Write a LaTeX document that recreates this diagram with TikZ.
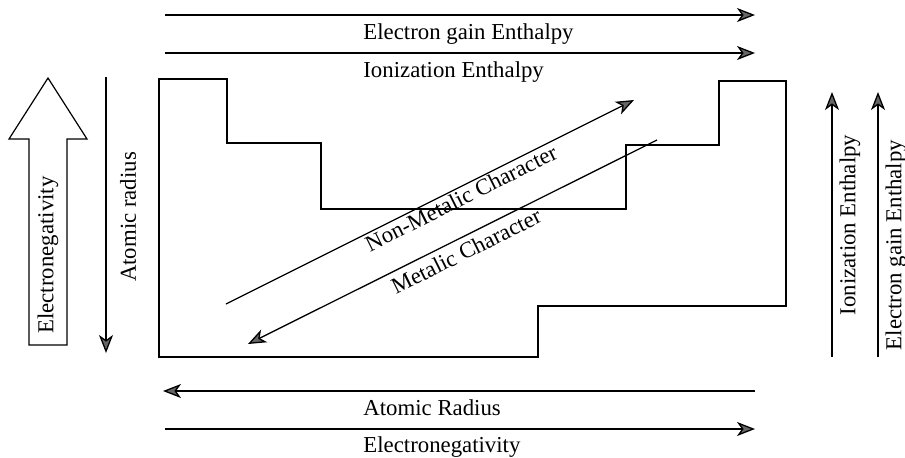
\documentclass[tikz,border=0pt]{standalone}
\usepackage{fontspec}
\setmainfont{Liberation Serif}
\usetikzlibrary{positioning}
\usetikzlibrary{arrows.meta}
\tikzset{
  tag/.style      = { font=\fontsize{11.4}{13}\selectfont, inner sep=0pt },
  vtag/.style     = { tag, rotate=90 },
  dtag/.style     = { tag, rotate=26.5 },
  tip/.style      = { -{Stealth[length=9pt,width=7pt,inset=2.5pt,fill=black!60]} },
  trend/.style    = { tip, line width=0.65pt },
  outline/.style  = { line width=0.9pt, line join=miter },
  hollow/.style   = { line width=0.6pt, line join=miter }
}

\begin{document}
\begin{tikzpicture}[x=0.5pt,y=-0.5pt]
  \useasboundingbox (0,0) rectangle (905,457);

  % end points of the trend arrows
  \coordinate (egL) at (165,15);   \coordinate (egR) at (755,15);
  \coordinate (ieL) at (165,53);   \coordinate (ieR) at (755,53);
  \coordinate (arL) at (163,391);  \coordinate (arR) at (755,391);
  \coordinate (enL) at (165,429);  \coordinate (enR) at (755,429);
  \coordinate (radT) at (106,77);  \coordinate (radB) at (106,353);
  \coordinate (ieB) at (832,357);  \coordinate (ieT) at (832,92);
  \coordinate (egB) at (878,357);  \coordinate (egT) at (878,92);
  \coordinate (nmS) at (226,304);  \coordinate (nmE) at (634,100);
  \coordinate (mS)  at (657,140);  \coordinate (mE)  at (248,344);

  % outline of the table
  \draw [outline] (159,79) -- (227,79) -- (227,143) -- (321,143) -- (321,209)
    -- (626,209) -- (626,145) -- (719,145) -- (719,81) -- (786,81)
    -- (786,306) -- (538,306) -- (538,357) -- (159,357) -- cycle;

  % hollow arrow
  \draw [hollow] (29,345) -- (29,139) -- (9,139) -- (48,78) -- (87,139)
    -- (67,139) -- (67,345) -- cycle;

  \node (enV)  [vtag] at (48,255)  {Electronegativity};
  \node (radV) [vtag] at (128,217) {Atomic radius};
  \node (ieV)  [vtag] at (850,225) {Ionization Enthalpy};
  \node (egV)  [vtag] at (896,245) {Electron gain Enthalpy};

  \node (egH)  [tag,anchor=west] at (363,34)  {Electron gain Enthalpy};
  \node (ieH)  [tag,anchor=west] at (363,72)  {Ionization Enthalpy};
  \node (arH)  [tag,anchor=west] at (363,408) {Atomic Radius};
  \node (enH)  [tag,anchor=west] at (363,447) {Electronegativity};

  \node (nmD)  [dtag] at (461,198) {Non-Metalic Character};
  \node (mD)   [dtag] at (466,251) {Metalic Character};

  \draw [trend] (egL)  -- (egR);
  \draw [trend] (ieL)  -- (ieR);
  \draw [trend] (arR)  -- (arL);
  \draw [trend] (enL)  -- (enR);
  \draw [trend] (radT) -- (radB);
  \draw [trend] (ieB)  -- (ieT);
  \draw [trend] (egB)  -- (egT);
  \draw [trend] (nmS)  -- (nmE);
  \draw [trend] (mS)   -- (mE);

\end{tikzpicture}
\end{document}
